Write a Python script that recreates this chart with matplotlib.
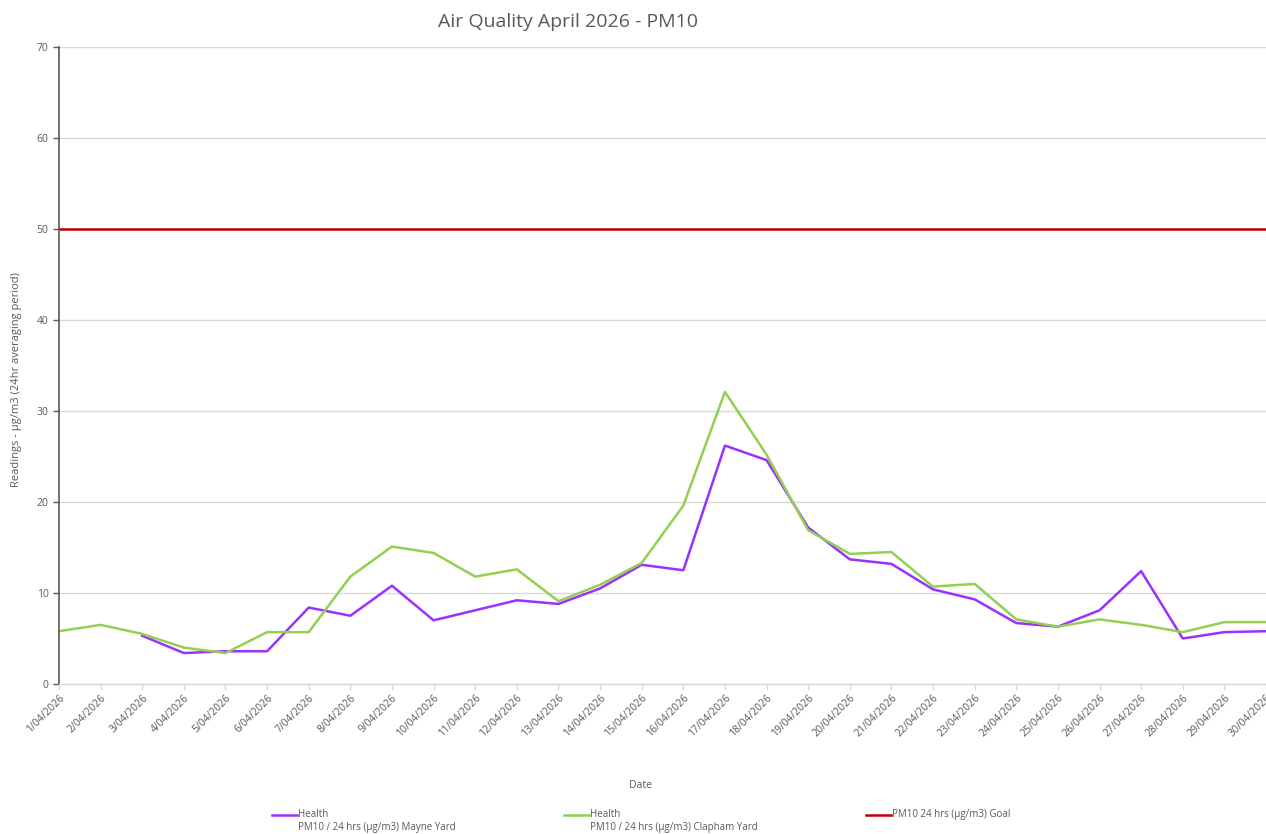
import matplotlib
matplotlib.use("Agg")
import matplotlib.pyplot as plt
from matplotlib.legend_handler import HandlerLine2D
import numpy as np

plt.rcParams['font.family'] = ['Open Sans', 'DejaVu Sans']

dates = [f"{d}/04/2026" for d in range(1, 31)]
mayne = [np.nan, np.nan, 5.3, 3.4, 3.6, 3.6, 8.4, 7.5, 10.8, 7.0,
         8.1, 9.2, 8.8, 10.5, 13.1, 12.5, 26.2, 24.6, 17.2, 13.7,
         13.2, 10.4, 9.3, 6.7, 6.3, 8.1, 12.4, 5.0, 5.7, 5.8]
clapham = [5.8, 6.5, 5.5, 4.0, 3.4, 5.7, 5.7, 11.8, 15.1, 14.4,
           11.8, 12.6, 9.1, 10.9, 13.3, 19.6, 32.1, 25.2, 16.9, 14.3,
           14.5, 10.7, 11.0, 7.1, 6.3, 7.1, 6.5, 5.7, 6.8, 6.8]
goal = [50] * 30
labels = ["Health\nPM10 / 24 hrs (µg/m3) Mayne Yard",
          "Health\nPM10 / 24 hrs (µg/m3) Clapham Yard",
          "PM10 24 hrs (µg/m3) Goal\n "]


class TopHandler(HandlerLine2D):
    def __init__(self, shift, **kw):
        super().__init__(**kw)
        self.shift = shift

    def create_artists(self, legend, orig_handle, xdescent, ydescent, width,
                       height, fontsize, trans):
        arts = super().create_artists(legend, orig_handle, xdescent, ydescent,
                                      width, height, fontsize, trans)
        for a in arts:
            a.set_ydata(np.asarray(a.get_ydata(), dtype=float) + self.shift)
        return arts


grey = '#595959'
fig = plt.figure(figsize=(12.66, 8.34), dpi=100)
ax = fig.add_axes([59/1266, 1-684/834, 1-59/1266, (684-47)/834])
x = np.arange(len(dates))
l1, = ax.plot(x, mayne, color='#9b30ff', lw=1.8, solid_joinstyle='round')
l2, = ax.plot(x, clapham, color='#92d050', lw=1.8, solid_joinstyle='round')
l3, = ax.plot(x, goal, color='#c00000', lw=1.8)

ax.set_xlim(0, len(dates)-1)
ax.set_ylim(0, 70)
ax.set_yticks(range(0, 71, 10))
ax.set_xticks(x)
ax.set_xticklabels(dates, rotation=45, ha='right', rotation_mode='anchor', fontsize=7.5, color=grey)
ax.tick_params(axis='y', labelsize=7.5, colors=grey, length=4, width=1)
ax.tick_params(axis='x', length=4, color='#d9d9d9', width=1, pad=2)
ax.grid(axis='y', color='#d9d9d9', lw=1)
ax.set_axisbelow(True)
for s in ['top', 'right']:
    ax.spines[s].set_visible(False)
ax.spines['left'].set_color(grey)
ax.spines['left'].set_linewidth(1.2)
ax.spines['bottom'].set_color('#d9d9d9')
ax.spines['bottom'].set_linewidth(1)

fig.text(568/1266, 1-22/834, "Air Quality April 2026 - PM10", ha='center', va='center',
         fontsize=14, color=grey)
fig.text(640/1266, 1-786/834, "Date", ha='center', va='center', fontsize=7.5, color=grey)
fig.text(17/1266, 1-380/834, "Readings - µg/m3 (24hr averaging period)", rotation=90,
         ha='center', va='center', fontsize=8, color=grey)

leg = fig.legend([l1, l2, l3], labels, ncol=3, loc='upper left',
                 bbox_to_anchor=(272/1266, 1-809/834), frameon=False, fontsize=7,
                 handlelength=2.6, handletextpad=0.1, columnspacing=11.1,
                 labelcolor=grey, borderaxespad=0, borderpad=0,
                 handler_map={l1: TopHandler(4.7), l2: TopHandler(4.7),
                              l3: TopHandler(4.7)})

fig.savefig("out.png", dpi=100)
